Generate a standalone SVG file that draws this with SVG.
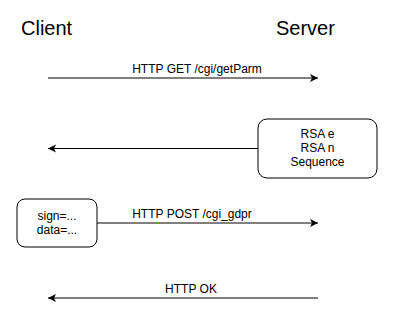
<svg xmlns="http://www.w3.org/2000/svg" width="400" height="325" viewBox="0 0 400 325">
<style>
text{font-family:"Liberation Sans",Arial,sans-serif;fill:#000}
.h{font-size:20px}
.l{font-size:12px;text-anchor:middle}
.box{fill:#fff;stroke:#000;stroke-width:1}
.c{stroke:#000;stroke-width:1;fill:none;marker-end:url(#ah)}
</style>
<defs>
<marker id="ah" markerWidth="10" markerHeight="10" refX="8" refY="4" orient="auto" markerUnits="userSpaceOnUse">
<path d="M0,0 L8,4 L0,8 L2,4 Z" fill="#000"/>
</marker>
</defs>
<g id="client"><text class="h" x="21" y="35">Client</text></g>
<g id="server"><text class="h" x="276" y="35">Server</text></g>
<g id="rsa">
<rect class="box" x="258" y="119" width="119" height="59" rx="9"/>
<text class="l" x="317.5" y="138">RSA e</text>
<text class="l" x="317.5" y="152">RSA n</text>
<text class="l" x="317.5" y="166">Sequence</text>
</g>
<g id="sign">
<rect class="box" x="17" y="199" width="80" height="48" rx="8"/>
<text class="l" x="57" y="220">sign=...</text>
<text class="l" x="57" y="234">data=...</text>
</g>
<g id="connectors">
<path class="c" d="M48,78 H318"/>
<text class="l" x="197" y="73">HTTP GET /cgi/getParm</text>
<path class="c" d="M258,148.5 H48"/>
<path class="c" d="M97,223 H318"/>
<text class="l" x="192" y="218">HTTP POST /cgi_gdpr</text>
<path class="c" d="M318,298 H48"/>
<text class="l" x="191" y="293">HTTP OK</text>
</g>
</svg>
